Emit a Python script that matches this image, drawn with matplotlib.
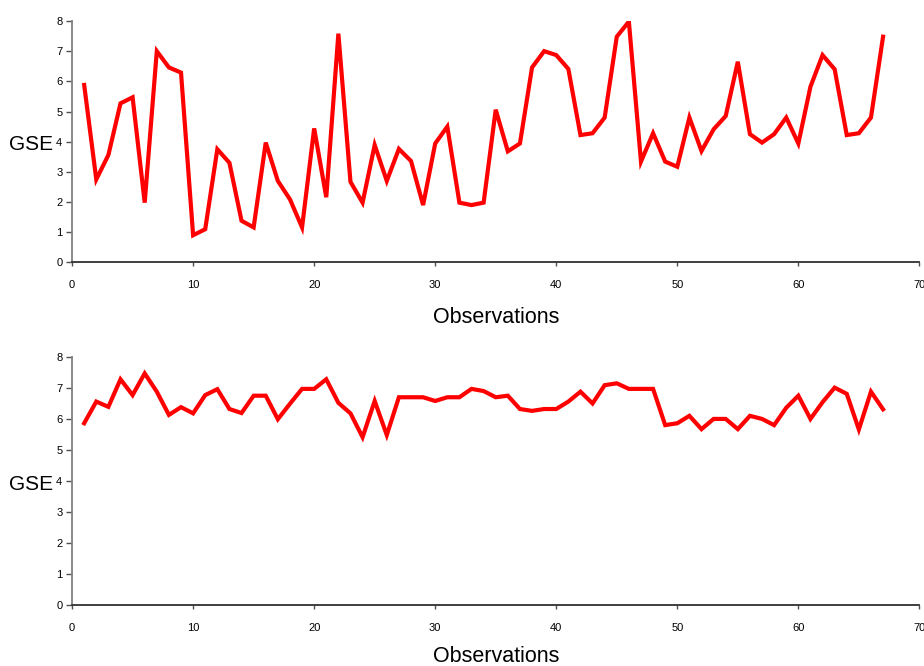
import matplotlib
matplotlib.use("Agg")
import matplotlib.pyplot as plt
import numpy as np

obs = np.arange(1, 68)

gse_top = [5.88, 2.75, 3.56, 5.27, 5.47, 1.98, 7.0, 6.46, 6.29, 0.9,
           1.1, 3.75, 3.3, 1.38, 1.16, 3.97, 2.7, 2.09, 1.16, 4.44,
           2.16, 7.58, 2.67, 1.98, 3.89, 2.7, 3.76, 3.36, 1.9, 3.94,
           4.5, 1.98, 1.9, 1.98, 5.06, 3.68, 3.94, 6.46, 7.0, 6.87,
           6.41, 4.22, 4.28, 4.8, 7.48, 7.98, 3.34, 4.28, 3.34, 3.17,
           4.8, 3.69, 4.41, 4.85, 6.65, 4.25, 3.97, 4.25, 4.8, 3.94,
           5.82, 6.87, 6.4, 4.22, 4.28, 4.8, 7.48]

gse_bottom = [5.87, 6.57, 6.4, 7.29, 6.78, 7.48, 6.89, 6.14, 6.39, 6.19,
              6.78, 6.97, 6.33, 6.2, 6.76, 6.76, 6.0, 6.5, 6.98, 6.98,
              7.29, 6.53, 6.19, 5.42, 6.59, 5.49, 6.71, 6.71, 6.71, 6.59,
              6.71, 6.71, 6.98, 6.91, 6.71, 6.76, 6.33, 6.27, 6.33, 6.33,
              6.57, 6.89, 6.51, 7.1, 7.16, 6.98, 6.98, 6.98, 5.81, 5.87,
              6.11, 5.68, 6.01, 6.01, 5.68, 6.11, 6.01, 5.81, 6.37, 6.76,
              6.01, 6.55, 7.02, 6.82, 5.67, 6.89, 6.32]

xticks = np.arange(0, 71, 10)
yticks = np.arange(0, 9, 1)

plt.rcParams['font.family'] = ['Liberation Sans', 'DejaVu Sans']

fig = plt.figure(figsize=(9.24, 6.66), dpi=100)
ax1 = fig.add_axes([0.078, 0.606, 0.917, 0.3625])
ax2 = fig.add_axes([0.078, 0.0916, 0.917, 0.3719])

for ax, vals, lpad in [(ax1, gse_top, 12), (ax2, gse_bottom, 9)]:
    ax.plot(obs, vals, color='#ff0000', linewidth=3.0, solid_joinstyle='miter')
    ax.set_xlim(0, 70)
    ax.set_ylim(0, 8)
    ax.set_xticks(xticks)
    ax.set_yticks(yticks)
    ax.spines['top'].set_visible(False)
    ax.spines['right'].set_visible(False)
    ax.spines['left'].set_color('#808080')
    ax.spines['bottom'].set_color('#303030')
    ax.spines['left'].set_linewidth(1.3)
    ax.spines['bottom'].set_linewidth(1.3)
    ax.tick_params(axis='y', labelsize=8, length=4, width=1, color='#505050', pad=3)
    ax.tick_params(axis='x', labelsize=8, length=3, width=1, color='#505050', pad=10)
    ax.set_xlabel('Observations', fontsize=15.5, labelpad=lpad)
    ax.set_ylabel('GSE', fontsize=15, rotation=0, ha='left', va='center')
    ax.yaxis.set_label_coords(-0.075, 0.488)

plt.savefig('out.png', dpi=100)
